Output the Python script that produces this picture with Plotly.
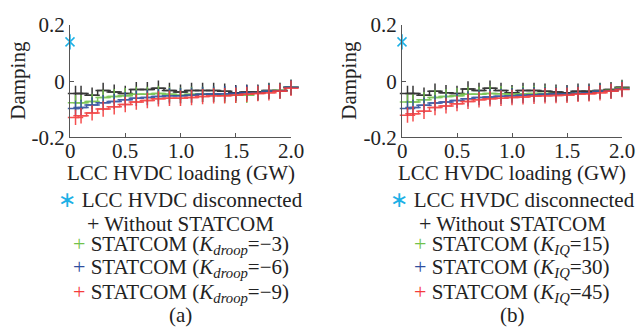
import plotly.graph_objects as go

# ---------------- data ----------------
loading = [0.05, 0.1, 0.2, 0.3, 0.4, 0.5, 0.6, 0.7, 0.8, 0.9, 1.0,
           1.1, 1.2, 1.3, 1.4, 1.5, 1.6, 1.7, 1.8, 1.9, 2.0]
disc_x = [0.0]
disc_y = [0.140]

a_without = [-0.044, -0.044, -0.050, -0.033, -0.039, -0.044, -0.030, -0.030, -0.025, -0.033, -0.039,
             -0.033, -0.033, -0.033, -0.036, -0.041, -0.039, -0.039, -0.033, -0.033, -0.022]
a_k3 = [-0.077, -0.077, -0.072, -0.058, -0.055, -0.052, -0.047, -0.047, -0.044, -0.047, -0.050,
        -0.047, -0.047, -0.047, -0.050, -0.050, -0.050, -0.041, -0.036, -0.033, -0.022]
a_k6 = [-0.097, -0.094, -0.085, -0.077, -0.072, -0.066, -0.061, -0.058, -0.055, -0.052, -0.052,
        -0.050, -0.047, -0.046, -0.045, -0.044, -0.041, -0.041, -0.036, -0.034, -0.022]
a_k9 = [-0.129, -0.123, -0.113, -0.099, -0.091, -0.083, -0.074, -0.069, -0.063, -0.061, -0.061,
        -0.058, -0.055, -0.052, -0.052, -0.050, -0.047, -0.044, -0.041, -0.036, -0.025]

b_without = [-0.044, -0.044, -0.050, -0.036, -0.041, -0.044, -0.028, -0.033, -0.025, -0.033, -0.041,
             -0.033, -0.033, -0.036, -0.039, -0.041, -0.036, -0.036, -0.033, -0.030, -0.022]
b_k15 = [-0.074, -0.074, -0.066, -0.058, -0.055, -0.052, -0.047, -0.047, -0.044, -0.045, -0.047,
         -0.045, -0.044, -0.044, -0.045, -0.045, -0.043, -0.041, -0.036, -0.033, -0.025]
b_k30 = [-0.097, -0.094, -0.086, -0.078, -0.074, -0.069, -0.063, -0.058, -0.056, -0.054, -0.052,
         -0.050, -0.048, -0.047, -0.046, -0.045, -0.043, -0.041, -0.036, -0.034, -0.028]
b_k45 = [-0.121, -0.116, -0.107, -0.094, -0.088, -0.080, -0.072, -0.066, -0.063, -0.061, -0.058,
         -0.056, -0.054, -0.052, -0.051, -0.050, -0.047, -0.045, -0.041, -0.036, -0.030]

x_ticks = [0, 0.5, 1.0, 1.5, 2.0]
x_ticklabels = ["0", "0.5", "1.0", "1.5", "2.0"]
y_ticks = [-0.2, 0, 0.2]
y_ticklabels = ["-0.2", "0", "0.2"]

x_title = "LCC HVDC loading (GW)"
y_title = "Damping"
legend_a = ["LCC HVDC disconnected", "Without STATCOM",
            "STATCOM (<i>K<sub>droop</sub></i>=\u22123)",
            "STATCOM (<i>K<sub>droop</sub></i>=\u22126)",
            "STATCOM (<i>K<sub>droop</sub></i>=\u22129)"]
legend_b = ["LCC HVDC disconnected", "Without STATCOM",
            "STATCOM (<i>K<sub>IQ</sub></i>=15)",
            "STATCOM (<i>K<sub>IQ</sub></i>=30)",
            "STATCOM (<i>K<sub>IQ</sub></i>=45)"]

# ---------------- style ----------------
FONT = "Liberation Serif"
FS = 21
C_CYAN = "#1cb0e6"
C_BLACK = "#222222"
C_GREEN = "#72c24a"
C_BLUE = "#2f4e9e"
C_RED = "#f53c3c"
AXC = "#555555"
TXT = "#222222"

fig = go.Figure()

panels = [
    ("x", "y", [a_without, a_k3, a_k6, a_k9]),
    ("x2", "y2", [b_without, b_k15, b_k30, b_k45]),
]
colors = [C_BLACK, C_GREEN, C_BLUE, C_RED]

for xa, ya, series in panels:
    # disconnected point: six-armed asterisk (x + vertical bar)
    fig.add_trace(go.Scatter(x=disc_x, y=disc_y, xaxis=xa, yaxis=ya, mode="markers",
                             marker=dict(symbol="x-thin-open", size=9, color=C_CYAN,
                                         line=dict(color=C_CYAN, width=1.5)),
                             cliponaxis=False, showlegend=False))
    fig.add_trace(go.Scatter(x=disc_x, y=disc_y, xaxis=xa, yaxis=ya, mode="markers",
                             marker=dict(symbol="line-ns-open", size=11, color=C_CYAN,
                                         line=dict(color=C_CYAN, width=1.5)),
                             cliponaxis=False, showlegend=False))
    for s, c in zip(series, colors):
        fig.add_trace(go.Scatter(x=loading, y=s, xaxis=xa, yaxis=ya, mode="lines+markers",
                                 line=dict(color=c, width=1.5, shape="hvh"),
                                 marker=dict(symbol="cross-thin-open", size=11, color=c,
                                             line=dict(color=c, width=1.5)),
                                 opacity=0.9, cliponaxis=False, showlegend=False))

axis_common_x = dict(range=[0, 2.0], tickvals=x_ticks, ticktext=x_ticklabels,
                     ticks="inside", ticklen=4, tickcolor=AXC, showline=True,
                     linecolor=AXC, linewidth=1, showgrid=False, zeroline=False,
                     showticklabels=False)
axis_common_y = dict(range=[-0.2, 0.2], tickvals=y_ticks, ticktext=y_ticklabels,
                     ticks="inside", ticklen=4, tickcolor=AXC, showline=True,
                     linecolor=AXC, linewidth=1, showgrid=False, zeroline=False,
                     tickfont=dict(family=FONT, size=FS, color=TXT))

W, H = 636, 335
y_dom = [1 - 135 / H, 1 - 14 / H]
fig.update_layout(
    width=W, height=H, margin=dict(l=0, r=0, t=0, b=0),
    paper_bgcolor="white", plot_bgcolor="white",
    xaxis=dict(domain=[70 / W, 291 / W], anchor="y", **axis_common_x),
    yaxis=dict(domain=y_dom, anchor="x", **axis_common_y),
    xaxis2=dict(domain=[402 / W, 622 / W], anchor="y2", **axis_common_x),
    yaxis2=dict(domain=y_dom, anchor="x2", **axis_common_y),
    font=dict(family=FONT, size=FS, color=TXT),
)

glyphs = [("\u2217", C_CYAN), ("+", C_BLACK), ("+", C_GREEN), ("+", C_BLUE), ("+", C_RED)]
line_y = [202, 228, 250, 275, 302]
for xr, cx, ax_x, texts, tag in [("x", (70 + 291) / 2, 18, legend_a, "(a)"),
                                 ("x2", (402 + 622) / 2, 349, legend_b, "(b)")]:
    # x tick labels, positioned at the axis' own tick values
    for tv, tl in zip(x_ticks, x_ticklabels):
        fig.add_annotation(x=tv, y=1 - 150 / H, xref=xr, yref="paper", text=tl,
                           showarrow=False, xanchor="center", yanchor="middle",
                           font=dict(family=FONT, size=FS, color=TXT))
    # axis titles
    fig.add_annotation(x=cx / W, y=1 - 173 / H, xref="paper", yref="paper", text=x_title,
                       showarrow=False, xanchor="center", yanchor="middle",
                       font=dict(family=FONT, size=FS, color=TXT))
    fig.add_annotation(x=ax_x / W, y=1 - 74 / H, xref="paper", yref="paper", text=y_title,
                       textangle=-90, showarrow=False, xanchor="center", yanchor="middle",
                       font=dict(family=FONT, size=FS, color=TXT))
    for (g, gc), t, py in zip(glyphs, texts, line_y):
        gfont = "DejaVu Sans" if g != "+" else FONT
        txt = f"<span style='color:{gc};font-family:{gfont};font-size:22px'>{g}</span> {t}"
        fig.add_annotation(x=cx / W, y=1 - py / H, xref="paper", yref="paper",
                           text=txt, showarrow=False, xanchor="center", yanchor="middle",
                           font=dict(family=FONT, size=FS, color=TXT))
    fig.add_annotation(x=cx / W, y=1 - 326 / H, xref="paper", yref="paper",
                       text=tag, showarrow=False, xanchor="center", yanchor="middle",
                       font=dict(family=FONT, size=FS, color=TXT))

fig.write_html("out.html", config={"displayModeBar": False},
               post_script="document.body.style.margin='0';document.body.style.padding='0';")
